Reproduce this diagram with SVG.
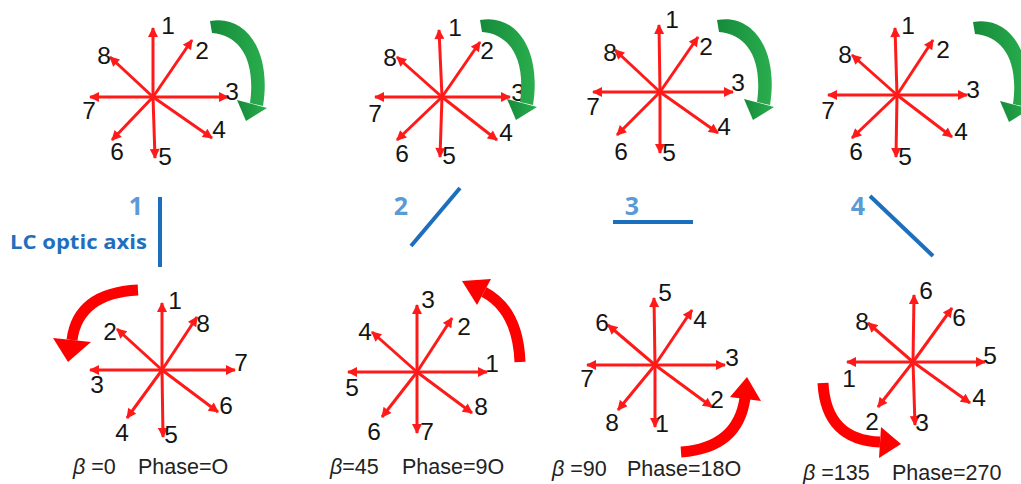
<svg xmlns="http://www.w3.org/2000/svg" width="1021" height="484" viewBox="0 0 1021 484">
<defs>
<style>
.ray{stroke:#ff1a1a;stroke-width:3;marker-end:url(#ah)}
.n{font-family:"Liberation Sans",Arial,sans-serif;font-size:24.5px;fill:#151515;text-anchor:middle}
.cap{font-family:"Liberation Sans",Arial,sans-serif;font-size:21.5px;fill:#222}
.beta{font-style:italic}
.bn{font-family:"Open Sans","Liberation Sans",sans-serif;font-weight:bold;font-size:25px;fill:#5b9bd5;text-anchor:middle}
.axis{stroke:#1b6fbd;stroke-width:4;stroke-linecap:butt}
.rot{fill:none;stroke:#ff0000;stroke-width:11}
.rh{fill:#ff0000}
.grn{fill:url(#gg)}
</style>
<marker id="ah" viewBox="0 0 10 10" refX="9" refY="5" markerWidth="11" markerHeight="10" markerUnits="userSpaceOnUse" orient="auto">
<path d="M0,0 L10,5 L0,10 z" fill="#ff1a1a"/>
</marker>
<linearGradient id="gg" x1="0" y1="0" x2="1" y2="0">
<stop offset="0" stop-color="#168a3a"/>
<stop offset="1" stop-color="#2aae4e"/>
</linearGradient>
<g id="greenArrow">
<path class="grn" d="M210 21 C245 14 272 50 263 106 L250 103 C256 60 240 35 212 33 Z"/>
<polygon class="grn" points="237,100 267,108 246,121"/>
</g>
</defs>
<rect width="1021" height="484" fill="#ffffff"/>

<g id="top1">
<line class="ray" x1="153" y1="97" x2="153" y2="28"/>
<line class="ray" x1="153" y1="97" x2="192" y2="40"/>
<line class="ray" x1="153" y1="97" x2="228" y2="97"/>
<line class="ray" x1="153" y1="97" x2="212" y2="138"/>
<line class="ray" x1="153" y1="97" x2="155" y2="158"/>
<line class="ray" x1="153" y1="97" x2="112" y2="140"/>
<line class="ray" x1="153" y1="97" x2="90" y2="97"/>
<line class="ray" x1="153" y1="97" x2="110" y2="57"/>
<text class="n" x="168" y="34">1</text><text class="n" x="202" y="59">2</text>
<text class="n" x="232" y="100">3</text><text class="n" x="219" y="138">4</text>
<text class="n" x="165" y="165">5</text><text class="n" x="117" y="160">6</text>
<text class="n" x="89" y="119">7</text><text class="n" x="104" y="64">8</text>
<use href="#greenArrow"/>
</g>

<g id="top2">
<line class="ray" x1="442" y1="97" x2="439" y2="30"/>
<line class="ray" x1="442" y1="97" x2="480" y2="42"/>
<line class="ray" x1="442" y1="97" x2="510" y2="97"/>
<line class="ray" x1="442" y1="97" x2="497" y2="140"/>
<line class="ray" x1="442" y1="97" x2="440" y2="157"/>
<line class="ray" x1="442" y1="97" x2="397" y2="140"/>
<line class="ray" x1="442" y1="97" x2="375" y2="97"/>
<line class="ray" x1="442" y1="97" x2="397" y2="57"/>
<text class="n" x="455" y="36">1</text><text class="n" x="487" y="59">2</text>
<text class="n" x="518" y="101">3</text><text class="n" x="506" y="141">4</text>
<text class="n" x="449" y="164">5</text><text class="n" x="402" y="162">6</text>
<text class="n" x="375" y="122">7</text><text class="n" x="390" y="66">8</text>
<use href="#greenArrow" transform="translate(270,-1)"/>
</g>

<g id="top3">
<line class="ray" x1="660" y1="92" x2="659" y2="25"/>
<line class="ray" x1="660" y1="92" x2="698" y2="37"/>
<line class="ray" x1="660" y1="92" x2="733" y2="92"/>
<line class="ray" x1="660" y1="92" x2="718" y2="133"/>
<line class="ray" x1="660" y1="92" x2="660" y2="153"/>
<line class="ray" x1="660" y1="92" x2="617" y2="135"/>
<line class="ray" x1="660" y1="92" x2="593" y2="92"/>
<line class="ray" x1="660" y1="92" x2="615" y2="50"/>
<text class="n" x="672" y="28">1</text><text class="n" x="706" y="55">2</text>
<text class="n" x="738" y="91">3</text><text class="n" x="724" y="135">4</text>
<text class="n" x="669" y="161">5</text><text class="n" x="621" y="160">6</text>
<text class="n" x="593" y="115">7</text><text class="n" x="610" y="61">8</text>
<use href="#greenArrow" transform="translate(507,-1)"/>
</g>

<g id="top4">
<line class="ray" x1="897" y1="95" x2="895" y2="28"/>
<line class="ray" x1="897" y1="95" x2="933" y2="40"/>
<line class="ray" x1="897" y1="95" x2="967" y2="95"/>
<line class="ray" x1="897" y1="95" x2="952" y2="137"/>
<line class="ray" x1="897" y1="95" x2="896" y2="157"/>
<line class="ray" x1="897" y1="95" x2="852" y2="138"/>
<line class="ray" x1="897" y1="95" x2="828" y2="95"/>
<line class="ray" x1="897" y1="95" x2="852" y2="55"/>
<text class="n" x="908" y="34">1</text><text class="n" x="943" y="58">2</text>
<text class="n" x="973" y="98">3</text><text class="n" x="961" y="140">4</text>
<text class="n" x="905" y="165">5</text><text class="n" x="856" y="160">6</text>
<text class="n" x="828" y="119">7</text><text class="n" x="845" y="63">8</text>
<use href="#greenArrow" transform="translate(763,1)"/>
</g>

<g id="axes">
<text class="bn" x="136" y="215">1</text>
<text x="10" y="249" font-family="'Open Sans','Liberation Sans',sans-serif" font-weight="bold" font-size="19" fill="#1f6fbf" textLength="137" lengthAdjust="spacingAndGlyphs">LC optic axis</text>
<line class="axis" x1="160" y1="197" x2="160" y2="267"/>
<text class="bn" x="401" y="215">2</text>
<line class="axis" x1="411" y1="246" x2="460" y2="188"/>
<text class="bn" x="632" y="215">3</text>
<line class="axis" x1="613" y1="222" x2="693" y2="222"/>
<text class="bn" x="858" y="215">4</text>
<line class="axis" x1="870" y1="196" x2="933" y2="256"/>
</g>

<g id="bottom1">
<line class="ray" x1="162" y1="370" x2="162" y2="303"/>
<line class="ray" x1="162" y1="370" x2="197" y2="317"/>
<line class="ray" x1="162" y1="370" x2="235" y2="370"/>
<line class="ray" x1="162" y1="370" x2="218" y2="412"/>
<line class="ray" x1="162" y1="370" x2="163" y2="437"/>
<line class="ray" x1="162" y1="370" x2="127" y2="418"/>
<line class="ray" x1="162" y1="370" x2="90" y2="370"/>
<line class="ray" x1="162" y1="370" x2="117" y2="329"/>
<text class="n" x="175" y="309">1</text><text class="n" x="110" y="340">2</text>
<text class="n" x="97" y="393">3</text><text class="n" x="122" y="441">4</text>
<text class="n" x="171" y="443">5</text><text class="n" x="226" y="414">6</text>
<text class="n" x="241" y="371">7</text><text class="n" x="203" y="332">8</text>
<path class="rot" d="M138 290 Q78 293 72 340"/>
<polygon class="rh" points="53,338 91,342 68,362"/>
<text class="cap" x="73" y="474"><tspan class="beta">β</tspan> =0</text>
<text class="cap" x="138" y="474">Phase=O</text>
</g>

<g id="bottom2">
<line class="ray" x1="417" y1="372" x2="417" y2="305"/>
<line class="ray" x1="417" y1="372" x2="452" y2="318"/>
<line class="ray" x1="417" y1="372" x2="487" y2="372"/>
<line class="ray" x1="417" y1="372" x2="472" y2="413"/>
<line class="ray" x1="417" y1="372" x2="417" y2="433"/>
<line class="ray" x1="417" y1="372" x2="382" y2="417"/>
<line class="ray" x1="417" y1="372" x2="348" y2="372"/>
<line class="ray" x1="417" y1="372" x2="372" y2="332"/>
<text class="n" x="428" y="308">3</text><text class="n" x="464" y="335">2</text>
<text class="n" x="365" y="340">4</text><text class="n" x="492" y="372">1</text>
<text class="n" x="352" y="396">5</text><text class="n" x="481" y="415">8</text>
<text class="n" x="374" y="440">6</text><text class="n" x="427" y="440">7</text>
<path class="rot" d="M520 362 Q518 310 484 292"/>
<polygon class="rh" points="491,279 477,305 462,281"/>
<text class="cap" x="330" y="474"><tspan class="beta">β</tspan>=45</text>
<text class="cap" x="402" y="474">Phase=9O</text>
</g>

<g id="bottom3">
<line class="ray" x1="655" y1="365" x2="654" y2="298"/>
<line class="ray" x1="655" y1="365" x2="692" y2="310"/>
<line class="ray" x1="655" y1="365" x2="725" y2="365"/>
<line class="ray" x1="655" y1="365" x2="712" y2="407"/>
<line class="ray" x1="655" y1="365" x2="655" y2="427"/>
<line class="ray" x1="655" y1="365" x2="618" y2="410"/>
<line class="ray" x1="655" y1="365" x2="587" y2="365"/>
<line class="ray" x1="655" y1="365" x2="608" y2="325"/>
<text class="n" x="665" y="301">5</text><text class="n" x="700" y="328">4</text>
<text class="n" x="602" y="331">6</text><text class="n" x="732" y="366">3</text>
<text class="n" x="587" y="387">7</text><text class="n" x="717" y="408">2</text>
<text class="n" x="612" y="431">8</text><text class="n" x="662" y="432">1</text>
<path class="rot" d="M681 452 Q738 448 745 398"/>
<polygon class="rh" points="730,397 761,401 747,377"/>
<text class="cap" x="552" y="476"><tspan class="beta">β</tspan> =90</text>
<text class="cap" x="627" y="476">Phase=18O</text>
</g>

<g id="bottom4">
<line class="ray" x1="913" y1="362" x2="914" y2="295"/>
<line class="ray" x1="913" y1="362" x2="952" y2="308"/>
<line class="ray" x1="913" y1="362" x2="985" y2="362"/>
<line class="ray" x1="913" y1="362" x2="970" y2="403"/>
<line class="ray" x1="913" y1="362" x2="915" y2="425"/>
<line class="ray" x1="913" y1="362" x2="878" y2="407"/>
<line class="ray" x1="913" y1="362" x2="847" y2="362"/>
<line class="ray" x1="913" y1="362" x2="868" y2="323"/>
<text class="n" x="926" y="299">6</text><text class="n" x="959" y="326">6</text>
<text class="n" x="862" y="330">8</text><text class="n" x="990" y="364">5</text>
<text class="n" x="849" y="387">1</text><text class="n" x="979" y="406">4</text>
<text class="n" x="872" y="430">2</text><text class="n" x="922" y="431">3</text>
<path class="rot" d="M823 383 Q826 440 880 442"/>
<polygon class="rh" points="881,427 879,458 901,444"/>
<text class="cap" x="803" y="480"><tspan class="beta">β</tspan> =135</text>
<text class="cap" x="892" y="480">Phase=270</text>
</g>
</svg>
